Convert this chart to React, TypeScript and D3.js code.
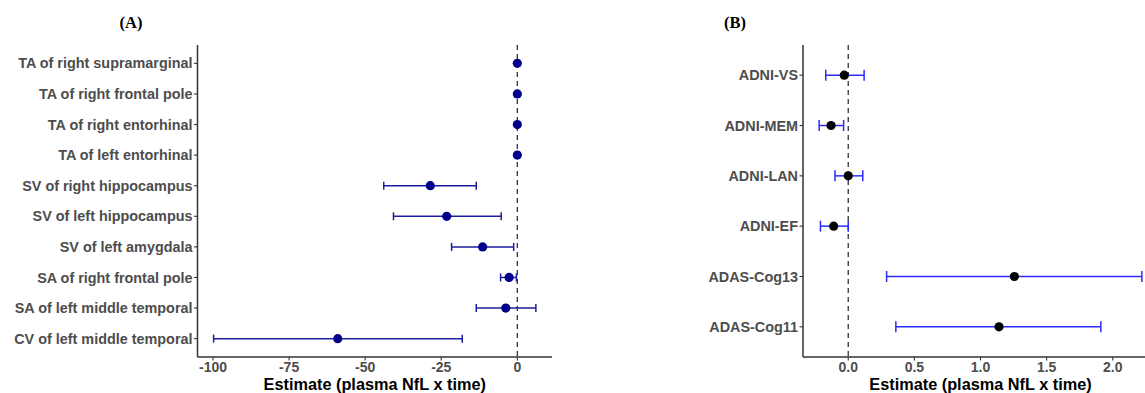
import * as d3 from "d3";
import React from "react";

// panel A: brain regions
const regionLabels = [
  "TA of right supramarginal",
  "TA of right frontal pole",
  "TA of right entorhinal",
  "TA of left entorhinal",
  "SV of right hippocampus",
  "SV of left hippocampus",
  "SV of left amygdala",
  "SA of right frontal pole",
  "SA of left middle temporal",
  "CV of left middle temporal",
];
const regionEst = [0, 0, 0, 0, -28.6, -23.2, -11.4, -2.7, -3.8, -59.0];
const regionLow = [-0.1, -0.1, -0.1, -0.1, -43.9, -40.7, -21.6, -5.5, -13.5, -99.8];
const regionHigh = [0.1, 0.1, 0.1, 0.1, -13.5, -5.3, -1.2, -0.3, 6.1, -18.1];
const regionTicks = [-100, -75, -50, -25, 0];

// panel B: cognitive scores
const cogLabels = ["ADNI-VS", "ADNI-MEM", "ADNI-LAN", "ADNI-EF", "ADAS-Cog13", "ADAS-Cog11"];
const cogEst = [-0.03, -0.13, 0.0, -0.11, 1.256, 1.14];
const cogLow = [-0.17, -0.22, -0.1, -0.21, 0.29, 0.36];
const cogHigh = [0.12, -0.035, 0.11, 0.0, 2.22, 1.91];
const cogTicks = [0, 0.5, 1, 1.5, 2];

const W = 1145;
const H = 393;
const SANS = "'Liberation Sans', Arial, sans-serif";

// plain hyphen for negatives, like R does
const hyphen = (f: (n: number) => string) => (v: number) => f(v).replace("\u2212", "-");

type PanelProps = {
  tag: string;
  tagX: number;
  labels: string[];
  est: number[];
  low: number[];
  high: number[];
  ticks: number[];
  fmt: (v: number) => string;
  left: number;
  right: number;
  pointColor: string;
  barColor: string;
  cap: number;
};

const Panel: React.FC<PanelProps> = ({ tag, tagX, labels, est, low, high, ticks, fmt, left, right, pointColor, barColor, cap }) => {
  const top = 45, bottom = 357;
  const lo = d3.min(low)!, hi = d3.max(high)!;
  const pad = (hi - lo) * 0.05;
  const x = d3.scaleLinear([lo - pad, hi + pad], [left, right]);
  // ggplot-ish discrete axis: 0.6 unit padding on both ends
  const y = d3.scalePoint(labels, [top, bottom]).padding(0.6);

  return (
    <g>
      <text x={tagX} y={28} textAnchor="middle" fontFamily="'Liberation Serif', 'Times New Roman', serif"
        fontWeight="bold" fontSize={16.5} fill="#000">{tag}</text>

      <line x1={x(0)} x2={x(0)} y1={top} y2={bottom} stroke="#333" strokeWidth={1.3} strokeDasharray="5,4" />

      {labels.map((l, i) => {
        const cy = y(l)!;
        return (
          <g key={l}>
            <line x1={x(low[i])} x2={x(high[i])} y1={cy} y2={cy} stroke={barColor} strokeWidth={1.5} />
            <line x1={x(low[i])} x2={x(low[i])} y1={cy - cap} y2={cy + cap} stroke={barColor} strokeWidth={1.5} />
            <line x1={x(high[i])} x2={x(high[i])} y1={cy - cap} y2={cy + cap} stroke={barColor} strokeWidth={1.5} />
            <circle cx={x(est[i])} cy={cy} r={4.6} fill={pointColor} />
          </g>
        );
      })}

      {/* y axis */}
      <line x1={left} x2={left} y1={top} y2={bottom} stroke="#333" strokeWidth={1.5} />
      {labels.map(l => (
        <g key={"yt" + l}>
          <line x1={left - 3.5} x2={left} y1={y(l)} y2={y(l)} stroke="#333" strokeWidth={1.1} />
          <text x={left - 5} y={y(l)} dy="0.35em" textAnchor="end" fontFamily={SANS} fontWeight="bold"
            fontSize={14.4} fill="#4d4d4d">{l}</text>
        </g>
      ))}

      {/* x axis */}
      <line x1={left} x2={right} y1={bottom} y2={bottom} stroke="#333" strokeWidth={1.5} />
      {ticks.map(t => (
        <g key={"xt" + t}>
          <line x1={x(t)} x2={x(t)} y1={bottom} y2={bottom + 3.5} stroke="#333" strokeWidth={1.1} />
          <text x={x(t)} y={bottom + 14.5} textAnchor="middle" fontFamily={SANS} fontWeight="bold"
            fontSize={14} fill="#4d4d4d">{fmt(t)}</text>
        </g>
      ))}
      <text x={(left + right) / 2} y={389.5} textAnchor="middle" fontFamily={SANS} fontWeight="bold"
        fontSize={16.3} fill="#000">Estimate (plasma NfL x time)</text>
    </g>
  );
};

export default function App() {
  return (
    <svg width={W} height={H} style={{ position: "absolute", left: 0, top: 0, background: "#fff" }}>
      <rect width={W} height={H} fill="#fff" />
      <Panel tag="(A)" tagX={131} labels={regionLabels} est={regionEst} low={regionLow} high={regionHigh}
        ticks={regionTicks} fmt={hyphen(d3.format("d"))} left={197.5} right={552}
        pointColor="#00008b" barColor="#1c1ca0" cap={4} />
      <Panel tag="(B)" tagX={735} labels={cogLabels} est={cogEst} low={cogLow} high={cogHigh}
        ticks={cogTicks} fmt={hyphen(d3.format(".1f"))} left={803} right={1158}
        pointColor="#000" barColor="#2b2bff" cap={5.5} />
    </svg>
  );
}
